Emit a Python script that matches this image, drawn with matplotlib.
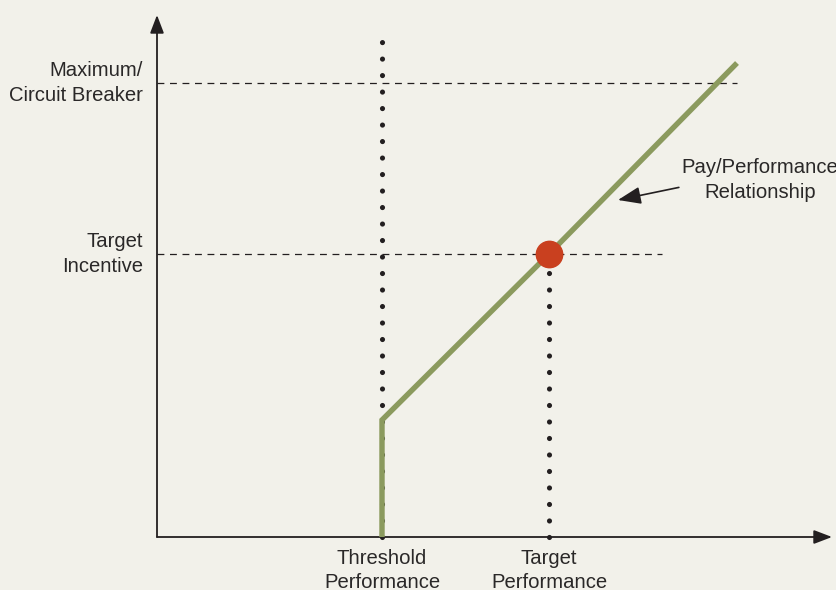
import matplotlib
matplotlib.use("Agg")
import matplotlib.pyplot as plt

# ---- data (chart units; origin at the axes corner) ----
threshold_perf = 225
target_perf = 392
pay_line_x = [225, 225, 392, 580]
pay_line_y = [0, 117, 283, 474]
target_incentive = 283
circuit_breaker = 454
threshold_guide_top = 501
y_labels = ["Maximum/\nCircuit Breaker", "Target\nIncentive"]
y_label_vals = [circuit_breaker, target_incentive]
x_labels = ["Threshold\nPerformance", "Target\nPerformance"]
x_label_vals = [threshold_perf, target_perf]
annotation_text = "Pay/Performance\nRelationship"

BG = "#f2f1ea"
GREEN = "#8b9a5e"
RED = "#c9401f"
DARK = "#231f20"
TEXT = "#2a2828"

plt.rcParams['font.family'] = ['Liberation Sans', 'DejaVu Sans']
FS = 14.6

fig = plt.figure(figsize=(8.37, 5.90), dpi=100)
fig.patch.set_facecolor(BG)
ax = fig.add_axes([0, 0, 1, 1])
ax.set_facecolor(BG)
ax.set_xlim(-157, 680)
ax.set_ylim(-53, 537)
ax.axis("off")

# axes with arrows
axis_arrow = dict(arrowstyle="-|>,head_length=1.1,head_width=0.42",
                  color=DARK, lw=1.3, mutation_scale=10,
                  shrinkA=0, shrinkB=0)
ax.annotate("", xy=(0, 522), xytext=(0, 0), arrowprops=axis_arrow)
ax.annotate("", xy=(675, 0), xytext=(0, 0), arrowprops=axis_arrow)

# dashed horizontal guides
ax.plot([0, 580], [circuit_breaker, circuit_breaker], color=DARK, lw=0.9,
        dashes=(5.5, 4.5), zorder=2)
ax.plot([0, 505], [target_incentive, target_incentive], color=DARK, lw=0.9,
        dashes=(5.5, 4.5), zorder=2)

# dotted verticals
dot_style = dict(color=DARK, lw=3.7, linestyle=(0, (0.01, 3.2)),
                 dash_capstyle="round", zorder=2)
ax.plot([threshold_perf, threshold_perf], [0, threshold_guide_top], **dot_style)
ax.plot([target_perf, target_perf], [0, target_incentive], **dot_style)

# pay/performance line
ax.plot(pay_line_x, pay_line_y, color=GREEN, lw=3.9, solid_capstyle="butt",
        solid_joinstyle="miter", zorder=3)

# target point
ax.plot([target_perf], [target_incentive], "o", color=RED, ms=19, mec=RED,
        zorder=4)

# annotation
ax.annotate(annotation_text, xy=(461, 337), xytext=(603, 357),
            ha="center", va="center", fontsize=FS, color=TEXT,
            linespacing=1.36,
            arrowprops=dict(arrowstyle="-|>,head_length=1.0,head_width=0.38",
                            color=DARK, lw=1.2, mutation_scale=14,
                            shrinkA=0, shrinkB=0,
                            relpos=(0.05, 0.38)),
            )

# y labels
for lab, v in zip(y_labels, y_label_vals):
    ax.text(-14, v, lab, ha="right", va="center", fontsize=FS, color=TEXT,
            multialignment="right", linespacing=1.36)

# x labels
for lab, v in zip(x_labels, x_label_vals):
    ax.text(v, -12, lab, ha="center", va="top", fontsize=FS, color=TEXT,
            multialignment="center", linespacing=1.36)

fig.savefig("out.png", dpi=100, facecolor=BG)
